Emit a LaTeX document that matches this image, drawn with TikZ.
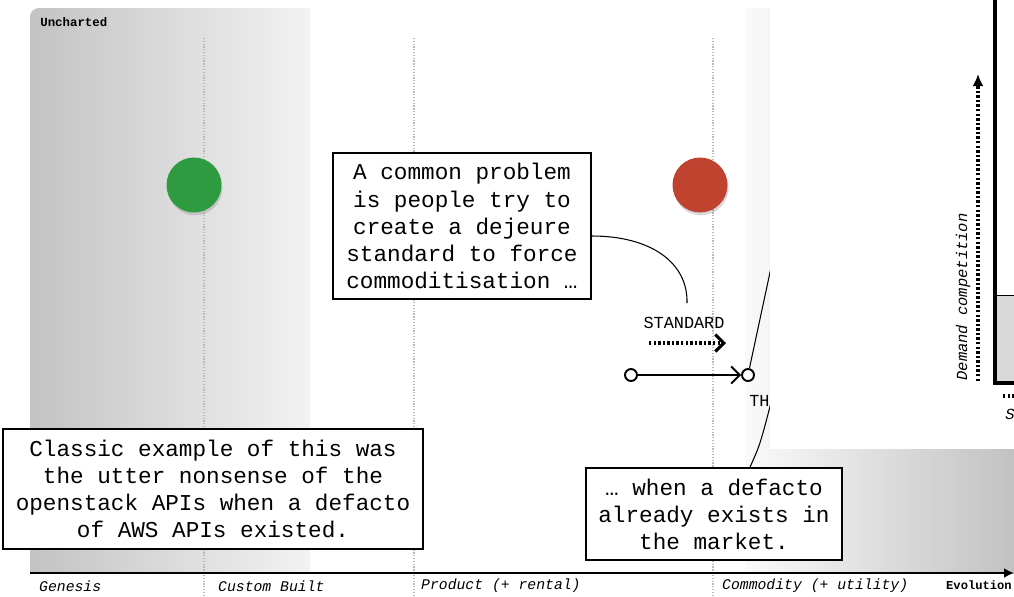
\documentclass[tikz,border=0pt]{standalone}
\usepackage{fontspec}
\setmonofont{Liberation Mono}
\usepackage{tikz}
\usetikzlibrary{arrows.meta, positioning, shadows}
\definecolor{genesiscolor}{RGB}{46,155,64}
\definecolor{commoditycolor}{RGB}{192,67,48}

\begin{document}
\begin{tikzpicture}[
    x=0.02cm, y=-0.02cm,
    note/.style={draw, line width=1.1pt, fill=white, align=center, inner sep=0pt,
        font=\ttfamily\fontsize{12.9}{15.4}\selectfont},
    stage/.style={anchor=west, font=\ttfamily\itshape\fontsize{8.4}{10}\selectfont},
    guide/.style={gray!55, line width=0.6pt, dash pattern=on 0.7pt off 0.9pt},
    blob/.style={circle, minimum size=1.1cm, inner sep=0pt,
        drop shadow={shadow xshift=0.6pt, shadow yshift=-1.6pt, opacity=0.3}},
    pin/.style={circle, draw, line width=1.1pt, fill=white, minimum size=0.24cm, inner sep=0pt},
    arrow/.style={-{Straight Barb[length=1.7mm, width=3.4mm]}, line width=1.1pt},
    dotarrow/.style={line width=1.8pt, dash pattern=on 1.4pt off 1.2pt},
    callout/.style={line width=0.6pt}
]
    \useasboundingbox (0,0) rectangle (1014,596);

    % evolution regions
    \shade[left color=gray!47, right color=gray!10]
        (30,573) [rounded corners=5pt] -- (30,8) -- (80,8) [sharp corners] -- (310,8) -- (310,573) -- cycle;
    \shade[left color=gray!4, right color=gray!48] (745,8) rectangle (1014,573);
    \node[anchor=west, inner sep=0pt, font=\ttfamily\bfseries\fontsize{7.05}{8}\selectfont] (uncharted) at (40,22) {Uncharted};

    \foreach \x in {204,414,713}
        \draw[guide] (\x,38) -- (\x,596);

    \node[blob, fill=genesiscolor] (green) at (194,185) {};
    \node[blob, fill=commoditycolor] (red) at (700,185) {};

    \node[note, minimum width=8.4cm, minimum height=2.4cm] (classic) at (213,489)
        {Classic example of this was\\the utter nonsense of the\\openstack APIs when a defacto\\of AWS APIs existed.};
    \node[note, minimum width=5.16cm, minimum height=2.92cm] (problem) at (462,226)
        {A common problem\\is people try to\\create a dejeure\\standard to force\\commoditisation …};
    \node[note, minimum width=5.12cm, minimum height=1.84cm] (defacto) at (714,514)
        {… when a defacto\\already exists in\\the market.};

    \node[font=\ttfamily\fontsize{9.6}{11}\selectfont] (standard) at (684,323) {STANDARD};
    \node[anchor=west, inner sep=0pt, font=\ttfamily\fontsize{9.6}{11}\selectfont] (th) at (749,401) {TH};
    \coordinate (stdfrom) at (649,343);
    \coordinate (stdto) at (726,343);
    \draw[dotarrow, -{Straight Barb[length=1.7mm, width=3.4mm]}] (stdfrom) -- (stdto);

    \node[pin] (start) at (631,375) {};
    \node[pin] (finish) at (748,375) {};
    \draw[arrow] (start) -- (finish);

    \coordinate (bend) at (687,303);
    \coordinate (upper) at (778,235);
    \coordinate (lower) at (773,395);
    \draw[callout] ([yshift=-0.2cm]problem.east) .. controls (650,236) and (688,262) .. (bend);
    \draw[callout] (finish) -- (upper);
    \draw[callout] ([xshift=0.72cm]defacto.north) .. controls (760,445) .. (lower);

    % overlaid chart
    \fill[white] (770,0) rectangle (1014,449);
    \filldraw[fill=gray!30, draw=black, line width=0.5pt] (996,295) rectangle (1014,383);
    \draw[line width=1.8pt] (995,0) -- (995,383) -- (1014,383);
    \coordinate (demandfoot) at (978,381);
    \coordinate (demandtip) at (978,74);
    \draw[dotarrow, -{Latex[length=2.4mm, width=2.2mm]}] (demandfoot) -- (demandtip);
    \node[rotate=90, font=\ttfamily\itshape\fontsize{8.8}{10}\selectfont] (demand) at (963,297) {Demand competition};
    \coordinate (supplyfoot) at (1003,396);
    \coordinate (supplyend) at (1014,396);
    \draw[dotarrow] (supplyfoot) -- (supplyend);
    \node[anchor=west, inner sep=0pt, font=\ttfamily\itshape\fontsize{8.8}{10}\selectfont] (supply) at (1005,414) {S};

    % evolution axis
    \coordinate (origin) at (30,573);
    \coordinate (axisend) at (1014,573);
    \draw[line width=1.2pt, -{Latex[length=2mm, width=2mm]}] (origin) -- (axisend);
    \node[stage] (genesis) at (33,586) {Genesis};
    \node[stage] (custom) at (212,586) {Custom Built};
    \node[stage] (product) at (415,586) {Product (+ rental)};
    \node[stage] (commodity) at (716,586) {Commodity (+ utility)};
    \node[anchor=west, font=\ttfamily\bfseries\fontsize{6.9}{8}\selectfont] (evolution) at (940,585) {Evolution};
\end{tikzpicture}
\end{document}
